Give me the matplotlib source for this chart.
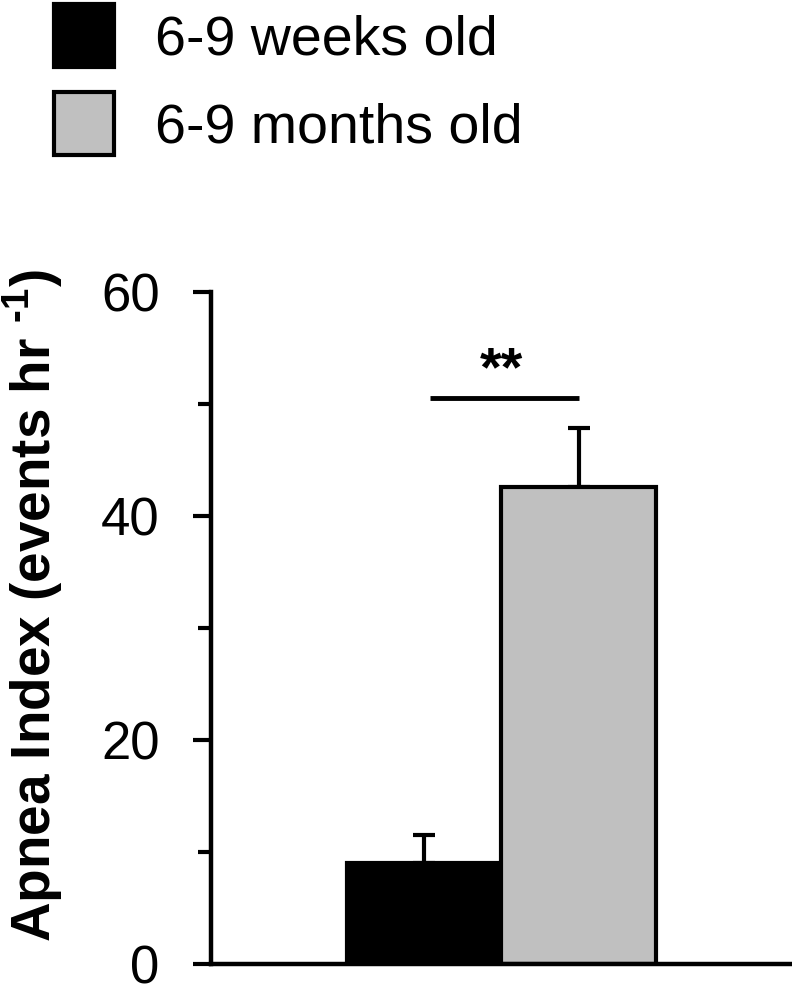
import numpy as np
import matplotlib.pyplot as plt
from matplotlib.ticker import MultipleLocator

plt.rcParams['font.family'] = ['Liberation Sans', 'DejaVu Sans']
plt.rcParams['mathtext.fontset'] = 'custom'
plt.rcParams['mathtext.rm'] = 'Liberation Sans:bold'
plt.rcParams['mathtext.bf'] = 'Liberation Sans:bold'

# donnees
groups = ['6-9 weeks old', '6-9 months old']
means = [9.0, 42.6]
sem = [2.5, 5.3]
colors = ['black', '#c0c0c0']
sig_y = 50.5
sig_label = '**'

fig = plt.figure(figsize=(7.92, 10.01), dpi=100)
ax = fig.add_axes([211 / 792, 1 - 964 / 1001, 1 - 211 / 792, 672 / 1001])

x = np.arange(len(groups))
bars = ax.bar(x, means, width=1.0, color=colors, edgecolor='black', linewidth=3,
              label=groups, zorder=2)
ax.errorbar(x, means, yerr=[np.zeros(len(sem)), sem], fmt='none', ecolor='black',
            elinewidth=3, capsize=8, capthick=3, zorder=1)

# barre de significativite
ax.plot([0.04, 1.0], [sig_y, sig_y], color='black', linewidth=3.5, solid_capstyle='butt')
ax.text(0.5, sig_y + 0.1, sig_label, ha='center', va='bottom', fontsize=40, fontweight='bold')

ax.set_xlim(-1.379, 2.382)
ax.set_ylim(0, 60)
ax.yaxis.set_major_locator(MultipleLocator(20))
ax.yaxis.set_minor_locator(MultipleLocator(10))
ax.tick_params(axis='y', which='major', length=13, width=3, labelsize=38, pad=24)
ax.tick_params(axis='y', which='minor', length=9.5, width=3)
ax.set_xticks([])
for s in ['top', 'right']:
    ax.spines[s].set_visible(False)
for s in ['left', 'bottom']:
    ax.spines[s].set_linewidth(3.2)
ax.spines['left'].set_zorder(3)
ax.spines['bottom'].set_zorder(3)

fig.text(33 / 792, 1 - 606 / 1001, r'Apnea Index (events hr $^{\text{-}1}$)',
         rotation=90, ha='center', va='center', fontsize=39.5, fontweight='bold')

fig.legend(handles=bars.patches, labels=groups, loc='upper left',
           bbox_to_anchor=(54 / 792, 1 - 4 / 1001), frameon=False, fontsize=40,
           handlelength=1.08, handleheight=1.37, handletextpad=0.73,
           labelspacing=0.45, borderpad=0, borderaxespad=0)

plt.savefig('out.png', dpi=100)
